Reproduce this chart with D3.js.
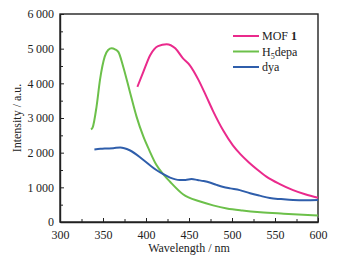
<!DOCTYPE html>
<html>
<head>
<meta charset="utf-8">
<script src="https://cdn.jsdelivr.net/npm/d3@7"></script>
<style>
  body { margin: 0; background: #fff; }
  svg { display: block; font-family: "Liberation Serif", "DejaVu Serif", serif; }
</style>
</head>
<body>
<svg width="342" height="266"></svg>
<script>
// series data: [wavelength nm, intensity a.u.]
const mof1 = [
  [390, 3900], [397, 4340], [405, 4820], [414, 5075], [424, 5130], [434, 5010],
  [443, 4720], [451, 4520], [461, 4100], [470, 3630], [478, 3200], [490, 2630],
  [501, 2210], [510, 1950], [520, 1710], [530, 1500], [540, 1310], [555, 1100],
  [571, 920], [585, 800], [600, 700]
];
const h5depa = [
  [336, 2670], [338, 2730], [342.5, 3330], [346.5, 4100], [352, 4770], [356, 4960],
  [360, 5010], [364, 4980], [368, 4900], [373.5, 4480], [381, 3780], [389, 3040],
  [397, 2460], [404, 2060], [412, 1650], [420, 1380], [428, 1160], [443, 800],
  [463, 590], [478, 480], [494, 390], [512, 330], [533, 280], [560, 240], [600, 190]
];
const dya = [
  [340, 2090], [347, 2110], [354, 2120], [362, 2130], [370, 2150], [381, 2070],
  [397, 1790], [412, 1500], [420, 1380], [428, 1280], [439, 1210], [446, 1215],
  [453, 1240], [460, 1210], [467, 1180], [475, 1130], [482, 1070], [490, 1010],
  [498, 970], [509, 920], [521, 830], [532, 760], [544, 690], [557, 660],
  [571, 635], [585, 630], [600, 635]
];

const seriesNames = ["MOF 1", "H5depa", "dya"];
const seriesColors = ["#ea2a8c", "#6cc04a", "#2f5eab"];
const allSeries = [mof1, h5depa, dya];

const xTicks = [300, 350, 400, 450, 500, 550, 600];
const yTicks = [0, 1000, 2000, 3000, 4000, 5000, 6000];

const M = { left: 60, top: 14, right: 24, bottom: 44 };
const W = 342 - M.left - M.right;
const H = 266 - M.top - M.bottom;

const svg = d3.select("svg");
const g = svg.append("g").attr("transform", `translate(${M.left},${M.top})`);

const x = d3.scaleLinear().domain([300, 600]).range([0, W]);
const y = d3.scaleLinear().domain([0, 6000]).range([H, 0]);

const fmt = (d) => (d >= 1000 ? Math.floor(d / 1000) + "\u2009" + d3.format("03d")(d % 1000) : d);

// minor ticks
g.append("g")
  .attr("transform", `translate(0,${H})`)
  .call(d3.axisBottom(x).tickValues(d3.range(325, 600, 50)).tickSize(-3).tickFormat(""))
  .call((a) => a.select(".domain").remove());
g.append("g")
  .call(d3.axisLeft(y).tickValues(d3.range(500, 6000, 1000)).tickSize(-3).tickFormat(""))
  .call((a) => a.select(".domain").remove());

// major axes
const xAxis = g.append("g")
  .attr("transform", `translate(0,${H})`)
  .call(d3.axisBottom(x).tickValues(xTicks).tickSizeInner(-4).tickSizeOuter(0).tickPadding(8));
const yAxis = g.append("g")
  .call(d3.axisLeft(y).tickValues(yTicks).tickFormat(fmt).tickSizeInner(-4).tickSizeOuter(0).tickPadding(6));

[xAxis, yAxis].forEach((a) => {
  a.selectAll("text").attr("font-size", 12).attr("fill", "#222").attr("font-family", "Liberation Serif");
  a.select(".domain").attr("stroke", "#222").attr("stroke-width", 1.4);
});
g.selectAll(".tick line").attr("stroke", "#222");

// frame top/right
g.append("rect")
  .attr("width", W).attr("height", H)
  .attr("fill", "none").attr("stroke", "#222").attr("stroke-width", 1.4);

// lines
const line = d3.line()
  .x((d) => x(d[0]))
  .y((d) => y(d[1]))
  .curve(d3.curveMonotoneX);

g.selectAll(".series")
  .data(allSeries)
  .join("path")
  .attr("class", "series")
  .attr("fill", "none")
  .attr("stroke", (d, i) => seriesColors[i])
  .attr("stroke-width", 2)
  .attr("stroke-linejoin", "round")
  .attr("d", line);

// legend
const leg = g.append("g").attr("transform", `translate(${W - 85},22)`);
seriesNames.forEach((name, i) => {
  const row = leg.append("g").attr("transform", `translate(0,${i * 15.5})`);
  row.append("line").attr("x1", 0).attr("x2", 26).attr("stroke", seriesColors[i]).attr("stroke-width", 2);
  const t = row.append("text").attr("x", 29).attr("dy", "0.35em")
    .attr("font-size", 12).attr("fill", "#222");
  if (name === "H5depa") {
    t.append("tspan").text("H");
    t.append("tspan").text("5").attr("font-size", 8).attr("dy", 3);
    t.append("tspan").text("depa").attr("dy", -3);
  } else if (name === "MOF 1") {
    t.append("tspan").text("MOF ");
    t.append("tspan").text("1").attr("font-weight", "bold");
  } else {
    t.text(name);
  }
});

// axis titles
svg.append("text")
  .attr("x", M.left + W / 2).attr("y", 252)
  .attr("text-anchor", "middle").attr("font-size", 12).attr("fill", "#222")
  .text("Wavelength / nm");
svg.append("text")
  .attr("transform", `translate(21,${M.top + H / 2}) rotate(-90)`)
  .attr("text-anchor", "middle").attr("font-size", 12).attr("fill", "#222")
  .text("Intensity / a.u.");
</script>
</body>
</html>
